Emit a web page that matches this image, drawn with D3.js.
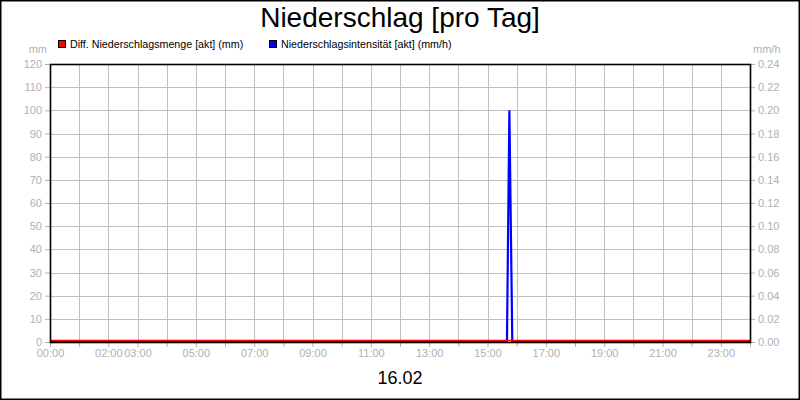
<!DOCTYPE html>
<html>
<head>
<meta charset="utf-8">
<script src="https://cdn.jsdelivr.net/npm/d3@7"></script>
<style>
body{margin:0;padding:0;background:#fff;}
svg{display:block;font-family:"Liberation Sans",Arial,sans-serif;}
</style>
</head>
<body>
<svg id="c" width="800" height="400"></svg>
<script>
// ---- data ----
const title = "Niederschlag [pro Tag]";
const dateLabel = "16.02";
const seriesNames = ["Diff. Niederschlagsmenge [akt] (mm)", "Niederschlagsintensität [akt] (mm/h)"];
const seriesColors = ["#ff0000", "#0000ff"];
// times in hours of day
const mengeTimes = [0, 24];
const mengeValues = [0, 0];           // mm
const intensTimes = [0, 15.667, 15.75, 15.85, 24];
const intensValues = [0, 0, 0.2, 0, 0]; // mm/h
const xTickHours = [0, 2, 3, 5, 7, 9, 11, 13, 15, 17, 19, 21, 23];
const xTickLabels = ["00:00","02:00","03:00","05:00","07:00","09:00","11:00","13:00","15:00","17:00","19:00","21:00","23:00"];
const leftTicks = [0,10,20,30,40,50,60,70,80,90,100,110,120];
const rightTicks = [0,0.02,0.04,0.06,0.08,0.10,0.12,0.14,0.16,0.18,0.20,0.22,0.24];
const gridHours = d3.range(0, 25, 1);

// ---- layout ----
const svg = d3.select("#c");
const L = 50, R = 750, T = 64, B = 342;
const gray = "#b0b0b0";
const x = d3.scaleLinear().domain([0, 24]).range([L, R]);
const yL = d3.scaleLinear().domain([0, 120]).range([B, T]);
const yR = d3.scaleLinear().domain([0, 0.24]).range([B, T]);

svg.append("rect").attr("x",0).attr("y",0).attr("width",800).attr("height",400).attr("fill","#fff");

// grid
const g = svg.append("g");
g.selectAll(".vg").data(gridHours.slice(1,-1)).enter().append("line")
  .attr("x1", d=>Math.round(x(d))+0.5).attr("x2", d=>Math.round(x(d))+0.5)
  .attr("y1", T).attr("y2", B).attr("stroke","#c0c0c0").attr("stroke-width",1);
g.selectAll(".hg").data(leftTicks.slice(1,-1)).enter().append("line")
  .attr("x1", L).attr("x2", R)
  .attr("y1", d=>Math.round(yL(d))+0.5).attr("y2", d=>Math.round(yL(d))+0.5)
  .attr("stroke","#c0c0c0").attr("stroke-width",1);

// axes
const axL = d3.axisLeft(yL).tickValues(leftTicks).tickSize(5).tickPadding(3).tickFormat(d3.format("d"));
const gL = svg.append("g").attr("transform",`translate(${L},0)`).call(axL);
const axR = d3.axisRight(yR).tickValues(rightTicks).tickSize(5).tickPadding(3).tickFormat(d3.format(".2f"));
const gR = svg.append("g").attr("transform",`translate(${R},0)`).call(axR);
const axB = d3.axisBottom(x).tickValues(gridHours).tickSize(5).tickPadding(3)
  .tickFormat(d => { const i = xTickHours.indexOf(d); return i >= 0 ? xTickLabels[i] : ""; });
const gB = svg.append("g").attr("transform",`translate(0,${B})`).call(axB);
[gL,gR,gB].forEach(a => {
  a.select(".domain").remove();
  a.selectAll(".tick line").attr("stroke", gray);
  a.selectAll(".tick text").attr("fill", gray).style("font-size","11px").style("font-family","'Liberation Sans',Arial,sans-serif");
});
gB.selectAll(".tick text").attr("dy","0.6em");

// series lines
const lineI = d3.line().x((d,i)=>x(intensTimes[i])).y(d=>yR(d));
svg.append("path").datum(intensValues).attr("d", lineI).attr("fill","none")
  .attr("stroke", seriesColors[1]).attr("stroke-width",2.2).attr("stroke-linejoin","miter");
const lineM = d3.line().x((d,i)=>x(mengeTimes[i])).y(d=>yL(d)-1.5);
svg.append("path").datum(mengeValues).attr("d", lineM).attr("fill","none")
  .attr("stroke", seriesColors[0]).attr("stroke-width",1.5);

// plot frame
svg.append("rect").attr("x",L+0.5).attr("y",T+0.5).attr("width",R-L).attr("height",B-T)
  .attr("fill","none").attr("stroke","#000").attr("stroke-width",1.6);

// units
svg.append("text").attr("x",47).attr("y",53).attr("text-anchor","end").attr("fill",gray)
  .style("font-size","11px").text("mm");
svg.append("text").attr("x",753).attr("y",53).attr("text-anchor","start").attr("fill",gray)
  .style("font-size","11px").text("mm/h");

// legend
const legX = [58, 269];
seriesNames.forEach((n,i) => {
  svg.append("rect").attr("x",legX[i]+0.5).attr("y",40.5).attr("width",7).attr("height",7)
    .attr("fill",seriesColors[i]).attr("stroke","#000").attr("stroke-width",1);
  svg.append("text").attr("x",legX[i]+12).attr("y",48).attr("fill","#000")
    .style("font-size","10.7px").text(n);
});

// title & date
svg.append("text").attr("x",400).attr("y",27).attr("text-anchor","middle").attr("fill","#000")
  .style("font-size","28px").text(title);
svg.append("text").attr("x",400).attr("y",384).attr("text-anchor","middle").attr("fill","#000")
  .style("font-size","18px").text(dateLabel);

// outer border
svg.append("rect").attr("x",0.75).attr("y",0.75).attr("width",798.5).attr("height",398.5)
  .attr("fill","none").attr("stroke","#000").attr("stroke-width",1.5);
</script>
</body>
</html>
